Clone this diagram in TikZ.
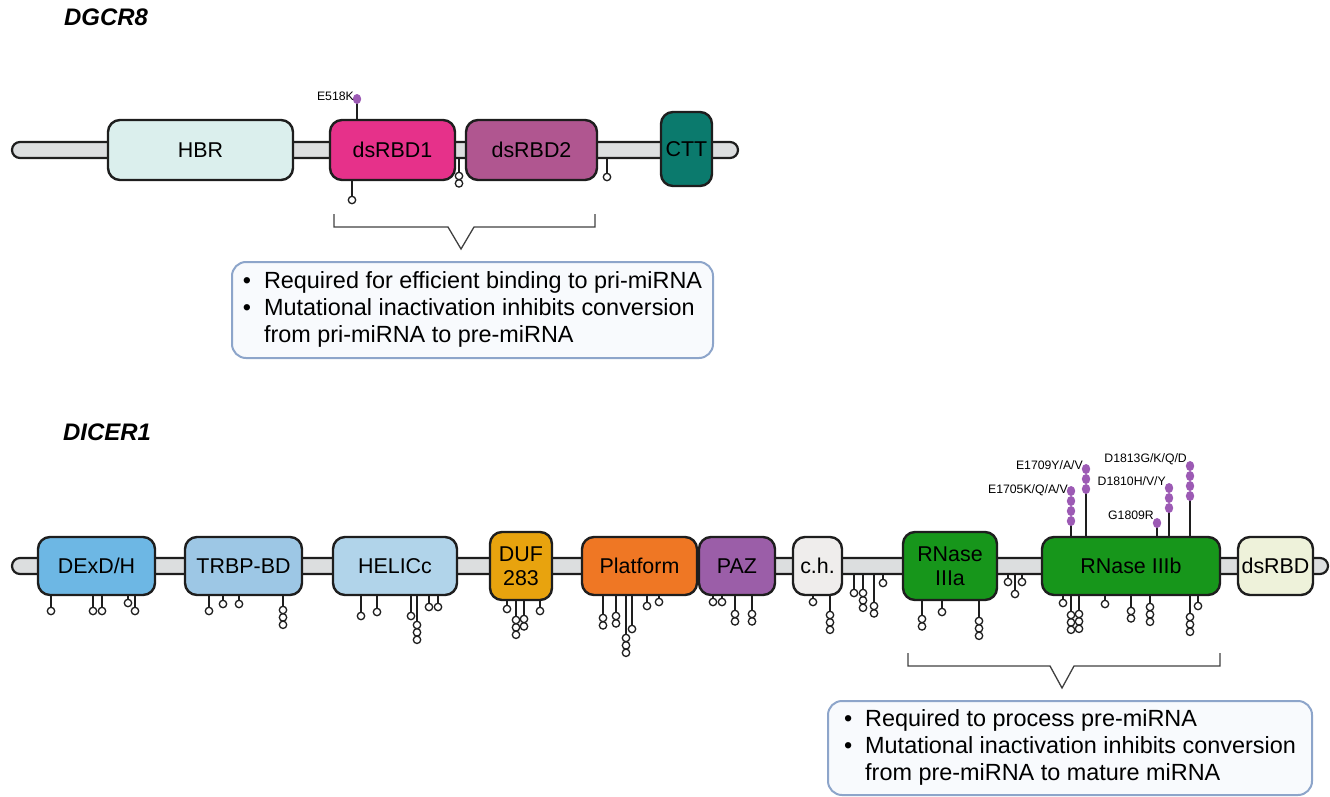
\documentclass[tikz,border=0pt]{standalone}
\usepackage{fontspec}
\setmainfont{Liberation Sans}
\definecolor{barfill}{HTML}{DCDEDF}
\definecolor{edge}{HTML}{1E1E1E}
\definecolor{hbrc}{HTML}{DBEFED}
\definecolor{rbdonec}{HTML}{E6318A}
\definecolor{rbdtwoc}{HTML}{B05690}
\definecolor{cttc}{HTML}{0B7A6D}
\definecolor{dexdc}{HTML}{6DB7E4}
\definecolor{trbpc}{HTML}{9DC7E5}
\definecolor{helicc}{HTML}{B1D4EA}
\definecolor{dufc}{HTML}{E8A30E}
\definecolor{platc}{HTML}{EF7724}
\definecolor{pazc}{HTML}{9B5EA8}
\definecolor{chc}{HTML}{EFEDEC}
\definecolor{rnasec}{HTML}{17961B}
\definecolor{dsrbdc}{HTML}{EEF2DA}
\definecolor{mutc}{HTML}{9C5AB4}
\definecolor{notec}{HTML}{8DA5CA}
\definecolor{notefill}{HTML}{F8FAFD}

% open lollipop: x, base y, first circle y, number of circles
\newcommand{\openlolly}[4]{%
	\draw[stem] (#1,#2) -- (#1,#3);
	\foreach \k in {1,...,#4} \draw[snpdot] (#1,{#3+(\k-1)*7.4}) circle[radius=3.7];
}
% hotspot: x, base y, top ball y, number of balls, label base y, label
\newcommand{\mutlolly}[6]{%
	\draw[stem] (#1,#2) -- (#1,{#3+(#4-1)*10});
	\foreach \k in {1,...,#4} \fill[mutc] (#1,{#3+(\k-1)*10}) ellipse[x radius=4.2, y radius=5];
	\node[mut,anchor=base east] (lab#1) at (#1-3,#5) {#6};
}

\begin{document}
\begin{tikzpicture}[x=1bp,y=-1bp,
	dom/.style={draw=edge,line width=2.4bp,rounded corners=12bp,inner sep=0pt,align=center,font=\fontsize{21.5}{24}\selectfont},
	backbone/.style={draw=edge,fill=barfill,line width=2.2bp,rounded corners=8bp,inner sep=0pt,minimum height=16bp},
	stem/.style={draw=edge,line width=1.3bp},
	snpdot/.style={draw=edge,fill=white,line width=1.3bp},
	mut/.style={inner sep=0pt,text=black,font=\fontsize{12.3}{13}\selectfont},
	note/.style={draw=notec,fill=notefill,line width=2bp,rounded corners=14bp,inner sep=0pt,font=\fontsize{23.5}{27}\selectfont},
	brace/.style={draw=black!75,line width=1.3bp},
	gene/.style={inner sep=0pt,font=\fontsize{24}{26}\selectfont\bfseries\itshape}]
	\useasboundingbox (0,0) rectangle (1330,796);

	%GENE NAMES
	\node[gene,anchor=base west] (dgcr) at (64,26) {DGCR8};
	\node[gene,anchor=base west] (dicer) at (63,440) {DICER1};

	%DGCR8 VARIANTS
	\openlolly{352}{150}{200}{1}
	\openlolly{459}{150}{176}{2}
	\openlolly{607}{150}{177}{1}
	\mutlolly{357}{150}{99}{1}{100}{E518K}

	%DICER1 VARIANTS
	\foreach \x/\y/\n in {51/611/1,93/611/1,102/611/1,128/603/1,135/611/1,
		209/611/1,223/604/1,239/604/1,283/610/3,
		361/616/1,377/612/1,411/616/1,417/625/3,429/607/1,438/607/1,
		507/609/1,516/620/3,524/619/2,540/611/1,
		603/618/2,616/616/2,626/638/3,632/629/1,647/606/1,659/602/1,
		713/602/1,722/602/1,735/614/2,752/614/2,
		813/602/1,830/615/3,854/593/1,863/593/3,874/606/2,883/583/1,
		922/619/2,942/612/1,979/621/3,1008/582/1,1015/594/1,1022/582/1,
		1063/603/1,1071/615/3,1079/614/3,1105/604/1,1131/611/2,1150/607/3,1190/617/3,1198/606/1}
		{\openlolly{\x}{566}{\y}{\n}}
	\mutlolly{1071}{566}{491}{4}{493}{E1705K/Q/A/V}
	\mutlolly{1086}{566}{469}{3}{469.5}{E1709Y/A/V}
	\mutlolly{1157}{566}{523}{1}{519}{G1809R}
	\mutlolly{1169}{566}{488}{3}{485}{D1810H/V/Y}
	\mutlolly{1190}{566}{466}{4}{462}{D1813G/K/Q/D}

	%BACKBONES
	\node[backbone,minimum width=726bp] (dgbar) at (375,150) {};
	\node[backbone,minimum width=1316bp] (dibar) at (670,566) {};

	%DGCR8 DOMAINS
	\node[dom,fill=hbrc,minimum width=185bp,minimum height=60bp] (hbr) at (200.5,150) {HBR};
	\node[dom,fill=rbdonec,minimum width=125bp,minimum height=60bp] (rbdone) at (392.5,150) {dsRBD1};
	\node[dom,fill=rbdtwoc,minimum width=131bp,minimum height=60bp] (rbdtwo) at (531.5,150) {dsRBD2};
	\node[dom,fill=cttc,minimum width=51bp,minimum height=74bp] (ctt) at (686.5,149) {CTT};

	%DICER1 DOMAINS
	\node[dom,fill=dexdc,minimum width=117bp,minimum height=58bp] (dexd) at (96.5,566) {DExD/H};
	\node[dom,fill=trbpc,minimum width=117bp,minimum height=58bp] (trbp) at (243.5,566) {TRBP-BD};
	\node[dom,fill=helicc,minimum width=124bp,minimum height=58bp] (helic) at (395,566) {HELICc};
	\node[dom,fill=dufc,minimum width=62bp,minimum height=68bp] (duf) at (521,566) {DUF\\283};
	\node[dom,fill=platc,minimum width=115bp,minimum height=58bp] (plat) at (639.5,566) {Platform};
	\node[dom,fill=pazc,minimum width=76bp,minimum height=58bp] (paz) at (737,566) {PAZ};
	\node[dom,fill=chc,minimum width=49bp,minimum height=58bp] (ch) at (817.5,566) {c.h.};
	\node[dom,fill=rnasec,minimum width=94bp,minimum height=68bp] (rnasea) at (950,566) {RNase\\IIIa};
	\node[dom,fill=rnasec,minimum width=178bp,minimum height=58bp] (rnaseb) at (1131,566) {RNase IIIb};
	\node[dom,fill=dsrbdc,minimum width=75bp,minimum height=58bp] (dsrbd) at (1275.5,566) {dsRBD};

	%BRACKETS
	\draw[brace] (334,214) |- (448,227) -- (461,249) -- (474,227) -| (595,214);
	\draw[brace] (908,653) |- (1050,666) -- (1062,688) -- (1074,666) -| (1220,653);

	%NOTES
	\node[note,minimum width=481bp,minimum height=96bp] (dgnote) at (472.5,310) {%
		\begin{tabular}{@{}l@{\hspace{13bp}}l@{}}
		\textbullet & Required for efficient binding to pri-miRNA\\
		\textbullet & Mutational inactivation inhibits conversion\\
		 & from pri-miRNA to pre-miRNA
		\end{tabular}};
	\node[note,minimum width=484bp,minimum height=94bp] (dinote) at (1070,748) {%
		\begin{tabular}{@{}l@{\hspace{13bp}}l@{}}
		\textbullet & Required to process pre-miRNA\\
		\textbullet & Mutational inactivation inhibits conversion\\
		 & from pre-miRNA to mature miRNA
		\end{tabular}};
\end{tikzpicture}
\end{document}
